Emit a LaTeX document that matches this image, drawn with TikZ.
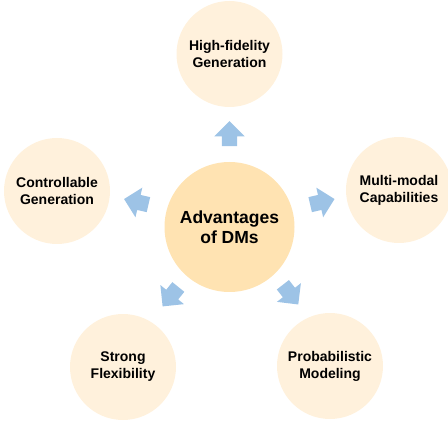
\documentclass[tikz,border=0pt]{standalone}
\usepackage{fontspec}
\setmainfont{Liberation Sans}
\usepackage{xcolor}
\usepackage{tikz}
\usetikzlibrary{shapes.arrows}
\definecolor{corepeach}{RGB}{255,227,178}
\definecolor{leafcream}{RGB}{255,241,220}
\definecolor{arrowblue}{RGB}{157,195,230}

\begin{document}
\begin{tikzpicture}[
                x=1pt, y=1pt,
                core/.style={circle, fill=corepeach, minimum size=130pt, inner sep=0pt, align=center, font=\fontsize{17.5}{20}\selectfont\bfseries},
                leaf/.style={circle, fill=leafcream, minimum size=106pt, inner sep=0pt, align=center, font=\fontsize{14}{17}\selectfont\bfseries},
                blockarrow/.style={single arrow, fill=arrowblue, minimum height=25pt, inner xsep=0pt, inner ysep=7.5pt, single arrow head extend=7.5pt}
            ]
                \useasboundingbox (0,0) rectangle (448,424);

                \node[core] (dms) at (229.5,197) {Advantages\\of DMs};

                \node[leaf] (fidelity) at (229.5,370) {High-fidelity\\Generation};
                \node[leaf] (control) at (57,233) {Controllable\\Generation};
                \node[leaf] (modal) at (399,234) {Multi-modal\\Capabilities};
                \node[leaf] (flex) at (123,57) {Strong\\Flexibility};
                \node[leaf] (prob) at (330,58) {Probabilistic\\Modeling};

                \node[blockarrow, rotate=90] (tofidelity) at (229.5,286.5) {};
                \node[blockarrow, rotate=167] (tocontrol) at (140,221.3) {};
                \node[blockarrow, rotate=13] (tomodal) at (318.6,221.3) {};
                \node[blockarrow, rotate=231] (toflex) at (172.9,130.3) {};
                \node[blockarrow, rotate=308] (toprob) at (288.2,132.4) {};
            \end{tikzpicture}
\end{document}
